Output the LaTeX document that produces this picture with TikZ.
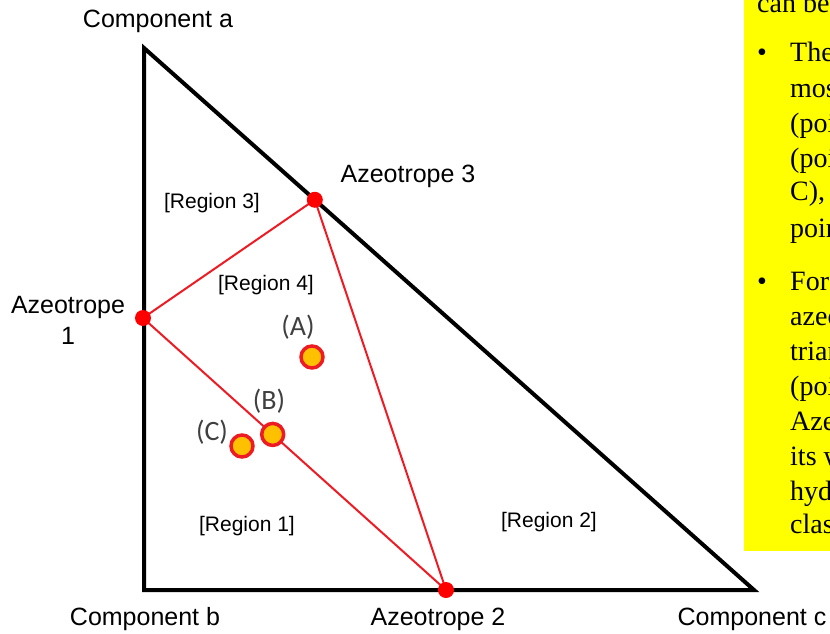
\documentclass[tikz,border=0pt]{standalone}
\usepackage{fontspec}
\setmainfont{Liberation Sans}
\newfontfamily\notefont{Liberation Serif}
\newfontfamily\ptfont{Carlito}
\usetikzlibrary{calc,positioning}

\definecolor{azred}{RGB}{237,28,36}
\definecolor{ptfill}{RGB}{255,192,0}
\definecolor{notebg}{RGB}{255,255,0}
\definecolor{ptgray}{RGB}{64,64,64}

\begin{document}
\begin{tikzpicture}[x=1pt,y=-1pt,
  corner/.style={font=\fontsize{25}{31}\selectfont,align=center},
  region/.style={font=\fontsize{21}{25}\selectfont},
  azdot/.style={circle,fill=red,inner sep=0pt,minimum size=16pt},
  mixpt/.style={circle,draw=azred,line width=3.5pt,fill=ptfill,inner sep=0pt,minimum size=22pt},
  ptname/.style={font=\ptfont\fontsize{28}{32}\selectfont,text=ptgray},
  tieline/.style={azred,line width=2pt},
  noteline/.style={anchor=base west,inner sep=0pt,font=\notefont\fontsize{28}{34}\selectfont}]
  \useasboundingbox (0,0) rectangle (830,634);

  % note box, cut off at the right edge
  \begin{scope}
    \clip (0,0) rectangle (830,634);
    \fill[notebg] (744,-5) rectangle (840,551);
    \node[noteline] (note0) at (757,13) {can be};
    \foreach \y/\txt [count=\i] in {62/The,97/mos,132/(poi,167/(poi,200/{C),},237/poin,
        290/For,325/azeo,360/trian,395/(poi,430/Aze,465/its w,500/hyd,533/clas}
      \node[noteline] (note\i) at (790,\y) {\txt};
    \node[noteline,anchor=base] (bul1) at (762,62) {\textbullet};
    \node[noteline,anchor=base] (bul2) at (762,290) {\textbullet};
  \end{scope}

  % ternary diagram
  \coordinate (compA) at (144,48);
  \coordinate (compB) at (144,590);
  \coordinate (compC) at (754,590);
  \draw[line width=4pt,line join=miter] (compA) -- (compB) -- (compC) -- cycle;

  \coordinate (az1) at (143,318);
  \coordinate (az2) at (446,590);
  \coordinate (az3) at ($(compA)!0.28!(compC)$);
  \draw[tieline] (az1) -- (az3) -- (az2) -- cycle;
  \foreach \p in {az1,az2,az3}
    \node[azdot] (dot-\p) at (\p) {};

  \node[mixpt] (ptA) at (312,357) {};
  \node[mixpt] (ptB) at ($(az1)!0.428!(az2)$) {};
  \node[mixpt] (ptC) at (242,446) {};
  \node[ptname] (labA) at (298,327) {(A)};
  \node[ptname] (labB) at (269,401) {(B)};
  \node[ptname] (labC) at (212,432) {(C)};

  \node[corner] (nameA) at (158,21) {Component a};
  \node[corner] (nameB) at (145,619) {Component b};
  \node[corner] (nameC) at (752,619) {Component c};
  \node[corner] (nameAz1) at (68,320) {Azeotrope\\1};
  \node[corner] (nameAz2) at (438,619) {Azeotrope 2};
  \node[corner] (nameAz3) at (408,176) {Azeotrope 3};

  \node[region] (reg3) at (212,203) {[Region 3]};
  \node[region] (reg4) at (266,285) {[Region 4]};
  \node[region] (reg1) at (247,526) {[Region 1]};
  \node[region] (reg2) at (549,522) {[Region 2]};
\end{tikzpicture}
\end{document}
